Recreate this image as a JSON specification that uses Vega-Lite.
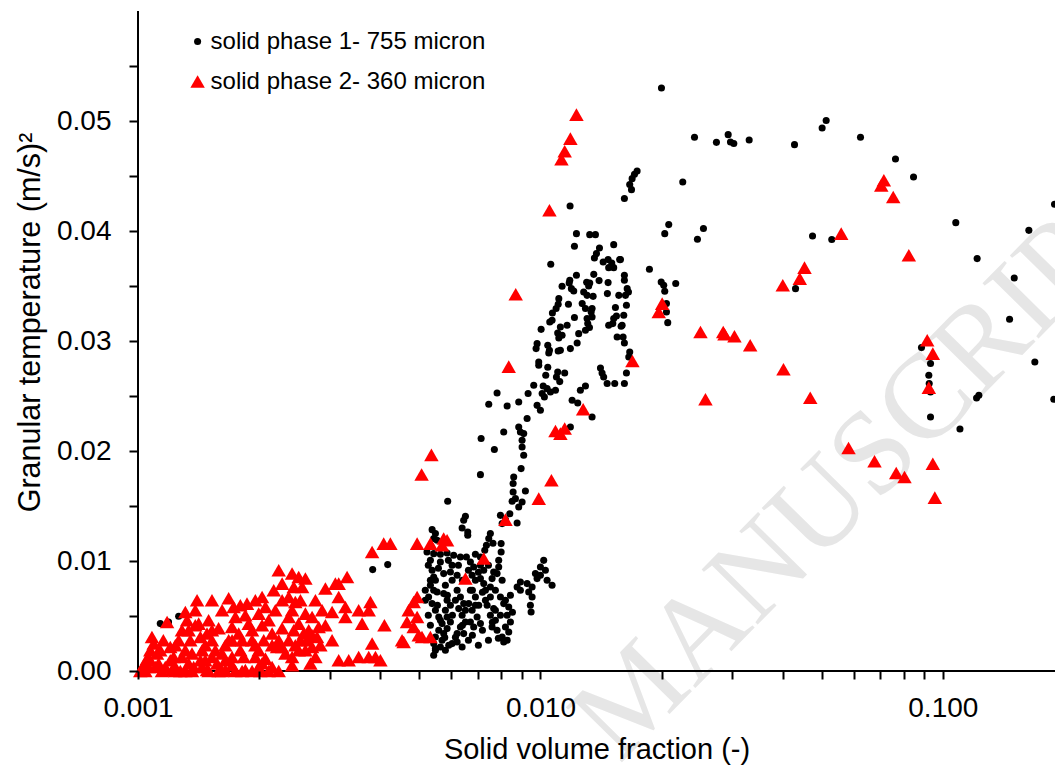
{
"$schema":"https://vega.github.io/schema/vega-lite/v6.json",
"width":917,"height":660,
"autosize":{"type":"none"},
"padding":{"left":138,"top":11,"right":0,"bottom":96},
"background":"white",
"config":{"view":{"stroke":null},"font":"Liberation Sans",
"axis":{"grid":false,"domain":false,"tickColor":"black","labelColor":"black","titleColor":"black","labelFont":"Liberation Sans","titleFont":"Liberation Sans","titleFontWeight":"normal","tickWidth":2,"labelOverlap":false,"labelFlush":false,"labelFontSize":28}},
"datasets":{
"watermark":[{"fraction":0.06407,"temp":0.01884,"label":"MANUSCRIPT"}],
"points":[
{"fraction":0.01999,"temp":0.0530,"phase":"solid phase 1- 755 micron"},
{"fraction":0.02415,"temp":0.04852,"phase":"solid phase 1- 755 micron"},
{"fraction":0.02738,"temp":0.04806,"phase":"solid phase 1- 755 micron"},
{"fraction":0.02928,"temp":0.04876,"phase":"solid phase 1- 755 micron"},
{"fraction":0.02967,"temp":0.04809,"phase":"solid phase 1- 755 micron"},
{"fraction":0.03024,"temp":0.04795,"phase":"solid phase 1- 755 micron"},
{"fraction":0.03302,"temp":0.04827,"phase":"solid phase 1- 755 micron"},
{"fraction":0.0428,"temp":0.04785,"phase":"solid phase 1- 755 micron"},
{"fraction":0.05013,"temp":0.04936,"phase":"solid phase 1- 755 micron"},
{"fraction":0.0513,"temp":0.05004,"phase":"solid phase 1- 755 micron"},
{"fraction":0.06243,"temp":0.04852,"phase":"solid phase 1- 755 micron"},
{"fraction":0.07627,"temp":0.04655,"phase":"solid phase 1- 755 micron"},
{"fraction":0.08457,"temp":0.04491,"phase":"solid phase 1- 755 micron"},
{"fraction":0.1077,"temp":0.04076,"phase":"solid phase 1- 755 micron"},
{"fraction":0.1217,"temp":0.03749,"phase":"solid phase 1- 755 micron"},
{"fraction":0.1505,"temp":0.03573,"phase":"solid phase 1- 755 micron"},
{"fraction":0.1636,"temp":0.04006,"phase":"solid phase 1- 755 micron"},
{"fraction":0.1895,"temp":0.04243,"phase":"solid phase 1- 755 micron"},
{"fraction":0.1465,"temp":0.03197,"phase":"solid phase 1- 755 micron"},
{"fraction":0.02258,"temp":0.04445,"phase":"solid phase 1- 755 micron"},
{"fraction":0.01739,"temp":0.04545,"phase":"solid phase 1- 755 micron"},
{"fraction":0.01713,"temp":0.04515,"phase":"solid phase 1- 755 micron"},
{"fraction":0.0169,"temp":0.04476,"phase":"solid phase 1- 755 micron"},
{"fraction":0.01667,"temp":0.04422,"phase":"solid phase 1- 755 micron"},
{"fraction":0.01684,"temp":0.04376,"phase":"solid phase 1- 755 micron"},
{"fraction":0.01617,"temp":0.04295,"phase":"solid phase 1- 755 micron"},
{"fraction":0.02084,"temp":0.04058,"phase":"solid phase 1- 755 micron"},
{"fraction":0.02037,"temp":0.03976,"phase":"solid phase 1- 755 micron"},
{"fraction":0.02542,"temp":0.04022,"phase":"solid phase 1- 755 micron"},
{"fraction":0.02456,"temp":0.03925,"phase":"solid phase 1- 755 micron"},
{"fraction":0.04745,"temp":0.03955,"phase":"solid phase 1- 755 micron"},
{"fraction":0.05297,"temp":0.03922,"phase":"solid phase 1- 755 micron"},
{"fraction":0.04305,"temp":0.03476,"phase":"solid phase 1- 755 micron"},
{"fraction":0.01866,"temp":0.03652,"phase":"solid phase 1- 755 micron"},
{"fraction":0.01581,"temp":0.0374,"phase":"solid phase 1- 755 micron"},
{"fraction":0.01617,"temp":0.03597,"phase":"solid phase 1- 755 micron"},
{"fraction":0.01617,"temp":0.03552,"phase":"solid phase 1- 755 micron"},
{"fraction":0.01643,"temp":0.03476,"phase":"solid phase 1- 755 micron"},
{"fraction":0.01627,"temp":0.03415,"phase":"solid phase 1- 755 micron"},
{"fraction":0.01636,"temp":0.03325,"phase":"solid phase 1- 755 micron"},
{"fraction":0.01611,"temp":0.03234,"phase":"solid phase 1- 755 micron"},
{"fraction":0.01996,"temp":0.03536,"phase":"solid phase 1- 755 micron"},
{"fraction":0.02025,"temp":0.03506,"phase":"solid phase 1- 755 micron"},
{"fraction":0.02037,"temp":0.03452,"phase":"solid phase 1- 755 micron"},
{"fraction":0.02169,"temp":0.03522,"phase":"solid phase 1- 755 micron"},
{"fraction":0.02057,"temp":0.0334,"phase":"solid phase 1- 755 micron"},
{"fraction":0.02057,"temp":0.03264,"phase":"solid phase 1- 755 micron"},
{"fraction":0.01596,"temp":0.03143,"phase":"solid phase 1- 755 micron"},
{"fraction":0.01605,"temp":0.03036,"phase":"solid phase 1- 755 micron"},
{"fraction":0.01617,"temp":0.02982,"phase":"solid phase 1- 755 micron"},
{"fraction":0.01667,"temp":0.029,"phase":"solid phase 1- 755 micron"},
{"fraction":0.01658,"temp":0.02855,"phase":"solid phase 1- 755 micron"},
{"fraction":0.01636,"temp":0.02709,"phase":"solid phase 1- 755 micron"},
{"fraction":0.01617,"temp":0.02613,"phase":"solid phase 1- 755 micron"},
{"fraction":0.02072,"temp":0.03167,"phase":"solid phase 1- 755 micron"},
{"fraction":0.1693,"temp":0.02809,"phase":"solid phase 1- 755 micron"},
{"fraction":0.1887,"temp":0.0247,"phase":"solid phase 1- 755 micron"},
{"fraction":0.1229,"temp":0.02506,"phase":"solid phase 1- 755 micron"},
{"fraction":0.1213,"temp":0.02482,"phase":"solid phase 1- 755 micron"},
{"fraction":0.08851,"temp":0.0294,"phase":"solid phase 1- 755 micron"},
{"fraction":0.0932,"temp":0.02795,"phase":"solid phase 1- 755 micron"},
{"fraction":0.0923,"temp":0.02688,"phase":"solid phase 1- 755 micron"},
{"fraction":0.0925,"temp":0.02613,"phase":"solid phase 1- 755 micron"},
{"fraction":0.0932,"temp":0.02536,"phase":"solid phase 1- 755 micron"},
{"fraction":0.0932,"temp":0.02309,"phase":"solid phase 1- 755 micron"},
{"fraction":0.1103,"temp":0.022,"phase":"solid phase 1- 755 micron"},
{"fraction":0.01185,"temp":0.04227,"phase":"solid phase 1- 755 micron"},
{"fraction":0.01061,"temp":0.03697,"phase":"solid phase 1- 755 micron"},
{"fraction":0.01229,"temp":0.03976,"phase":"solid phase 1- 755 micron"},
{"fraction":0.01326,"temp":0.03967,"phase":"solid phase 1- 755 micron"},
{"fraction":0.0137,"temp":0.03967,"phase":"solid phase 1- 755 micron"},
{"fraction":0.01521,"temp":0.03876,"phase":"solid phase 1- 755 micron"},
{"fraction":0.01402,"temp":0.03845,"phase":"solid phase 1- 755 micron"},
{"fraction":0.01215,"temp":0.03861,"phase":"solid phase 1- 755 micron"},
{"fraction":0.01378,"temp":0.03795,"phase":"solid phase 1- 755 micron"},
{"fraction":0.01362,"temp":0.03755,"phase":"solid phase 1- 755 micron"},
{"fraction":0.01473,"temp":0.0374,"phase":"solid phase 1- 755 micron"},
{"fraction":0.01432,"temp":0.03718,"phase":"solid phase 1- 755 micron"},
{"fraction":0.01504,"temp":0.03709,"phase":"solid phase 1- 755 micron"},
{"fraction":0.01574,"temp":0.0374,"phase":"solid phase 1- 755 micron"},
{"fraction":0.01521,"temp":0.03667,"phase":"solid phase 1- 755 micron"},
{"fraction":0.01478,"temp":0.03667,"phase":"solid phase 1- 755 micron"},
{"fraction":0.01357,"temp":0.03606,"phase":"solid phase 1- 755 micron"},
{"fraction":0.01229,"temp":0.03597,"phase":"solid phase 1- 755 micron"},
{"fraction":0.01183,"temp":0.03552,"phase":"solid phase 1- 755 micron"},
{"fraction":0.01179,"temp":0.03527,"phase":"solid phase 1- 755 micron"},
{"fraction":0.01194,"temp":0.03476,"phase":"solid phase 1- 755 micron"},
{"fraction":0.01132,"temp":0.03497,"phase":"solid phase 1- 755 micron"},
{"fraction":0.01303,"temp":0.03534,"phase":"solid phase 1- 755 micron"},
{"fraction":0.01326,"temp":0.03527,"phase":"solid phase 1- 755 micron"},
{"fraction":0.01318,"temp":0.035,"phase":"solid phase 1- 755 micron"},
{"fraction":0.01399,"temp":0.03549,"phase":"solid phase 1- 755 micron"},
{"fraction":0.01473,"temp":0.03531,"phase":"solid phase 1- 755 micron"},
{"fraction":0.01655,"temp":0.03445,"phase":"solid phase 1- 755 micron"},
{"fraction":0.0121,"temp":0.03455,"phase":"solid phase 1- 755 micron"},
{"fraction":0.01281,"temp":0.03445,"phase":"solid phase 1- 755 micron"},
{"fraction":0.01306,"temp":0.03415,"phase":"solid phase 1- 755 micron"},
{"fraction":0.01352,"temp":0.03406,"phase":"solid phase 1- 755 micron"},
{"fraction":0.01467,"temp":0.03431,"phase":"solid phase 1- 755 micron"},
{"fraction":0.01566,"temp":0.03415,"phase":"solid phase 1- 755 micron"},
{"fraction":0.01111,"temp":0.03385,"phase":"solid phase 1- 755 micron"},
{"fraction":0.01107,"temp":0.03334,"phase":"solid phase 1- 755 micron"},
{"fraction":0.01094,"temp":0.03295,"phase":"solid phase 1- 755 micron"},
{"fraction":0.01174,"temp":0.03334,"phase":"solid phase 1- 755 micron"},
{"fraction":0.0127,"temp":0.0334,"phase":"solid phase 1- 755 micron"},
{"fraction":0.01294,"temp":0.03295,"phase":"solid phase 1- 755 micron"},
{"fraction":0.01344,"temp":0.03295,"phase":"solid phase 1- 755 micron"},
{"fraction":0.01337,"temp":0.03264,"phase":"solid phase 1- 755 micron"},
{"fraction":0.01344,"temp":0.03218,"phase":"solid phase 1- 755 micron"},
{"fraction":0.01306,"temp":0.03204,"phase":"solid phase 1- 755 micron"},
{"fraction":0.01311,"temp":0.03158,"phase":"solid phase 1- 755 micron"},
{"fraction":0.01324,"temp":0.03122,"phase":"solid phase 1- 755 micron"},
{"fraction":0.01294,"temp":0.03097,"phase":"solid phase 1- 755 micron"},
{"fraction":0.01536,"temp":0.03304,"phase":"solid phase 1- 755 micron"},
{"fraction":0.01545,"temp":0.03227,"phase":"solid phase 1- 755 micron"},
{"fraction":0.01521,"temp":0.03204,"phase":"solid phase 1- 755 micron"},
{"fraction":0.01513,"temp":0.03158,"phase":"solid phase 1- 755 micron"},
{"fraction":0.01478,"temp":0.03143,"phase":"solid phase 1- 755 micron"},
{"fraction":0.01587,"temp":0.03134,"phase":"solid phase 1- 755 micron"},
{"fraction":0.01551,"temp":0.03036,"phase":"solid phase 1- 755 micron"},
{"fraction":0.01071,"temp":0.03255,"phase":"solid phase 1- 755 micron"},
{"fraction":0.01069,"temp":0.03188,"phase":"solid phase 1- 755 micron"},
{"fraction":0.01055,"temp":0.03173,"phase":"solid phase 1- 755 micron"},
{"fraction":0.01215,"temp":0.03213,"phase":"solid phase 1- 755 micron"},
{"fraction":0.01165,"temp":0.03143,"phase":"solid phase 1- 755 micron"},
{"fraction":0.01121,"temp":0.03127,"phase":"solid phase 1- 755 micron"},
{"fraction":0.01104,"temp":0.03073,"phase":"solid phase 1- 755 micron"},
{"fraction":0.01132,"temp":0.03052,"phase":"solid phase 1- 755 micron"},
{"fraction":0.01111,"temp":0.03027,"phase":"solid phase 1- 755 micron"},
{"fraction":0.01004,"temp":0.03106,"phase":"solid phase 1- 755 micron"},
{"fraction":0.01245,"temp":0.03067,"phase":"solid phase 1- 755 micron"},
{"fraction":0.01234,"temp":0.02982,"phase":"solid phase 1- 755 micron"},
{"fraction":0.01187,"temp":0.02931,"phase":"solid phase 1- 755 micron"},
{"fraction":0.009812,"temp":0.02976,"phase":"solid phase 1- 755 micron"},
{"fraction":0.009756,"temp":0.02931,"phase":"solid phase 1- 755 micron"},
{"fraction":0.01043,"temp":0.02961,"phase":"solid phase 1- 755 micron"},
{"fraction":0.01053,"temp":0.02915,"phase":"solid phase 1- 755 micron"},
{"fraction":0.01049,"temp":0.02891,"phase":"solid phase 1- 755 micron"},
{"fraction":0.01107,"temp":0.02909,"phase":"solid phase 1- 755 micron"},
{"fraction":0.01121,"temp":0.02915,"phase":"solid phase 1- 755 micron"},
{"fraction":0.009905,"temp":0.02809,"phase":"solid phase 1- 755 micron"},
{"fraction":0.009905,"temp":0.02779,"phase":"solid phase 1- 755 micron"},
{"fraction":0.01043,"temp":0.02761,"phase":"solid phase 1- 755 micron"},
{"fraction":0.01031,"temp":0.02688,"phase":"solid phase 1- 755 micron"},
{"fraction":0.01104,"temp":0.02718,"phase":"solid phase 1- 755 micron"},
{"fraction":0.01149,"temp":0.02709,"phase":"solid phase 1- 755 micron"},
{"fraction":0.01096,"temp":0.02673,"phase":"solid phase 1- 755 micron"},
{"fraction":0.01117,"temp":0.02631,"phase":"solid phase 1- 755 micron"},
{"fraction":0.0141,"temp":0.02755,"phase":"solid phase 1- 755 micron"},
{"fraction":0.01423,"temp":0.02709,"phase":"solid phase 1- 755 micron"},
{"fraction":0.01436,"temp":0.02673,"phase":"solid phase 1- 755 micron"},
{"fraction":0.01465,"temp":0.02613,"phase":"solid phase 1- 755 micron"},
{"fraction":0.0153,"temp":0.02613,"phase":"solid phase 1- 755 micron"},
{"fraction":0.009625,"temp":0.02597,"phase":"solid phase 1- 755 micron"},
{"fraction":0.01016,"temp":0.02591,"phase":"solid phase 1- 755 micron"},
{"fraction":0.01039,"temp":0.02567,"phase":"solid phase 1- 755 micron"},
{"fraction":0.01059,"temp":0.02536,"phase":"solid phase 1- 755 micron"},
{"fraction":0.0109,"temp":0.02552,"phase":"solid phase 1- 755 micron"},
{"fraction":0.0101,"temp":0.02522,"phase":"solid phase 1- 755 micron"},
{"fraction":0.01023,"temp":0.02491,"phase":"solid phase 1- 755 micron"},
{"fraction":0.01294,"temp":0.02591,"phase":"solid phase 1- 755 micron"},
{"fraction":0.01257,"temp":0.02552,"phase":"solid phase 1- 755 micron"},
{"fraction":0.01199,"temp":0.02461,"phase":"solid phase 1- 755 micron"},
{"fraction":0.01238,"temp":0.02436,"phase":"solid phase 1- 755 micron"},
{"fraction":0.01344,"temp":0.02309,"phase":"solid phase 1- 755 micron"},
{"fraction":0.007804,"temp":0.02527,"phase":"solid phase 1- 755 micron"},
{"fraction":0.007441,"temp":0.02425,"phase":"solid phase 1- 755 micron"},
{"fraction":0.008266,"temp":0.02409,"phase":"solid phase 1- 755 micron"},
{"fraction":0.008833,"temp":0.02445,"phase":"solid phase 1- 755 micron"},
{"fraction":0.00932,"temp":0.02522,"phase":"solid phase 1- 755 micron"},
{"fraction":0.009812,"temp":0.02415,"phase":"solid phase 1- 755 micron"},
{"fraction":0.01,"temp":0.0237,"phase":"solid phase 1- 755 micron"},
{"fraction":0.009267,"temp":0.02295,"phase":"solid phase 1- 755 micron"},
{"fraction":0.008833,"temp":0.02218,"phase":"solid phase 1- 755 micron"},
{"fraction":0.008918,"temp":0.02173,"phase":"solid phase 1- 755 micron"},
{"fraction":0.009088,"temp":0.02158,"phase":"solid phase 1- 755 micron"},
{"fraction":0.009005,"temp":0.02097,"phase":"solid phase 1- 755 micron"},
{"fraction":0.009005,"temp":0.02036,"phase":"solid phase 1- 755 micron"},
{"fraction":0.009088,"temp":0.01961,"phase":"solid phase 1- 755 micron"},
{"fraction":0.01187,"temp":0.02218,"phase":"solid phase 1- 755 micron"},
{"fraction":0.008106,"temp":0.02173,"phase":"solid phase 1- 755 micron"},
{"fraction":0.007123,"temp":0.02113,"phase":"solid phase 1- 755 micron"},
{"fraction":0.007684,"temp":0.02013,"phase":"solid phase 1- 755 micron"},
{"fraction":0.008954,"temp":0.0184,"phase":"solid phase 1- 755 micron"},
{"fraction":0.008583,"temp":0.01764,"phase":"solid phase 1- 755 micron"},
{"fraction":0.008554,"temp":0.01704,"phase":"solid phase 1- 755 micron"},
{"fraction":0.007095,"temp":0.01785,"phase":"solid phase 1- 755 micron"},
{"fraction":0.008554,"temp":0.01627,"phase":"solid phase 1- 755 micron"},
{"fraction":0.008668,"temp":0.01567,"phase":"solid phase 1- 755 micron"},
{"fraction":0.008506,"temp":0.01543,"phase":"solid phase 1- 755 micron"},
{"fraction":0.009005,"temp":0.01536,"phase":"solid phase 1- 755 micron"},
{"fraction":0.009177,"temp":0.01636,"phase":"solid phase 1- 755 micron"},
{"fraction":0.005883,"temp":0.01543,"phase":"solid phase 1- 755 micron"},
{"fraction":0.008833,"temp":0.01491,"phase":"solid phase 1- 755 micron"},
{"fraction":0.008393,"temp":0.0143,"phase":"solid phase 1- 755 micron"},
{"fraction":0.006511,"temp":0.01406,"phase":"solid phase 1- 755 micron"},
{"fraction":0.006447,"temp":0.0137,"phase":"solid phase 1- 755 micron"},
{"fraction":0.006389,"temp":0.013,"phase":"solid phase 1- 755 micron"},
{"fraction":0.006598,"temp":0.01264,"phase":"solid phase 1- 755 micron"},
{"fraction":0.006598,"temp":0.01234,"phase":"solid phase 1- 755 micron"},
{"fraction":0.007955,"temp":0.01415,"phase":"solid phase 1- 755 micron"},
{"fraction":0.008033,"temp":0.0134,"phase":"solid phase 1- 755 micron"},
{"fraction":0.008187,"temp":0.01376,"phase":"solid phase 1- 755 micron"},
{"fraction":0.008752,"temp":0.01345,"phase":"solid phase 1- 755 micron"},
{"fraction":0.005381,"temp":0.01285,"phase":"solid phase 1- 755 micron"},
{"fraction":0.005484,"temp":0.01249,"phase":"solid phase 1- 755 micron"},
{"fraction":0.00543,"temp":0.01204,"phase":"solid phase 1- 755 micron"},
{"fraction":0.005537,"temp":0.01188,"phase":"solid phase 1- 755 micron"},
{"fraction":0.00751,"temp":0.01249,"phase":"solid phase 1- 755 micron"},
{"fraction":0.007441,"temp":0.01204,"phase":"solid phase 1- 755 micron"},
{"fraction":0.007343,"temp":0.01143,"phase":"solid phase 1- 755 micron"},
{"fraction":0.007273,"temp":0.01097,"phase":"solid phase 1- 755 micron"},
{"fraction":0.007623,"temp":0.01161,"phase":"solid phase 1- 755 micron"},
{"fraction":0.007987,"temp":0.01158,"phase":"solid phase 1- 755 micron"},
{"fraction":0.007987,"temp":0.01082,"phase":"solid phase 1- 755 micron"},
{"fraction":0.007877,"temp":0.01006,"phase":"solid phase 1- 755 micron"},
{"fraction":0.007877,"temp":0.009455,"phase":"solid phase 1- 755 micron"},
{"fraction":0.007804,"temp":0.008855,"phase":"solid phase 1- 755 micron"},
{"fraction":0.008033,"temp":0.008245,"phase":"solid phase 1- 755 micron"},
{"fraction":0.005226,"temp":0.01082,"phase":"solid phase 1- 755 micron"},
{"fraction":0.00543,"temp":0.01067,"phase":"solid phase 1- 755 micron"},
{"fraction":0.005642,"temp":0.01061,"phase":"solid phase 1- 755 micron"},
{"fraction":0.005863,"temp":0.01073,"phase":"solid phase 1- 755 micron"},
{"fraction":0.006088,"temp":0.01052,"phase":"solid phase 1- 755 micron"},
{"fraction":0.006327,"temp":0.01036,"phase":"solid phase 1- 755 micron"},
{"fraction":0.006548,"temp":0.01036,"phase":"solid phase 1- 755 micron"},
{"fraction":0.006894,"temp":0.01061,"phase":"solid phase 1- 755 micron"},
{"fraction":0.007095,"temp":0.01036,"phase":"solid phase 1- 755 micron"},
{"fraction":0.005329,"temp":0.01006,"phase":"solid phase 1- 755 micron"},
{"fraction":0.005381,"temp":0.009155,"phase":"solid phase 1- 755 micron"},
{"fraction":0.00543,"temp":0.008545,"phase":"solid phase 1- 755 micron"},
{"fraction":0.005329,"temp":0.008245,"phase":"solid phase 1- 755 micron"},
{"fraction":0.005329,"temp":0.007791,"phase":"solid phase 1- 755 micron"},
{"fraction":0.00543,"temp":0.007336,"phase":"solid phase 1- 755 micron"},
{"fraction":0.005537,"temp":0.007182,"phase":"solid phase 1- 755 micron"},
{"fraction":0.005642,"temp":0.009909,"phase":"solid phase 1- 755 micron"},
{"fraction":0.006034,"temp":0.009609,"phase":"solid phase 1- 755 micron"},
{"fraction":0.005975,"temp":0.009,"phase":"solid phase 1- 755 micron"},
{"fraction":0.005749,"temp":0.008855,"phase":"solid phase 1- 755 micron"},
{"fraction":0.006209,"temp":0.0087,"phase":"solid phase 1- 755 micron"},
{"fraction":0.006034,"temp":0.008245,"phase":"solid phase 1- 755 micron"},
{"fraction":0.006699,"temp":0.009909,"phase":"solid phase 1- 755 micron"},
{"fraction":0.006826,"temp":0.009455,"phase":"solid phase 1- 755 micron"},
{"fraction":0.007095,"temp":0.009609,"phase":"solid phase 1- 755 micron"},
{"fraction":0.00723,"temp":0.009155,"phase":"solid phase 1- 755 micron"},
{"fraction":0.006765,"temp":0.0087,"phase":"solid phase 1- 755 micron"},
{"fraction":0.006894,"temp":0.008245,"phase":"solid phase 1- 755 micron"},
{"fraction":0.007095,"temp":0.0084,"phase":"solid phase 1- 755 micron"},
{"fraction":0.00723,"temp":0.007945,"phase":"solid phase 1- 755 micron"},
{"fraction":0.00751,"temp":0.007636,"phase":"solid phase 1- 755 micron"},
{"fraction":0.007584,"temp":0.0084,"phase":"solid phase 1- 755 micron"},
{"fraction":0.007653,"temp":0.009,"phase":"solid phase 1- 755 micron"},
{"fraction":0.005175,"temp":0.007336,"phase":"solid phase 1- 755 micron"},
{"fraction":0.005274,"temp":0.006727,"phase":"solid phase 1- 755 micron"},
{"fraction":0.005381,"temp":0.006127,"phase":"solid phase 1- 755 micron"},
{"fraction":0.005484,"temp":0.005518,"phase":"solid phase 1- 755 micron"},
{"fraction":0.00559,"temp":0.004909,"phase":"solid phase 1- 755 micron"},
{"fraction":0.005697,"temp":0.004309,"phase":"solid phase 1- 755 micron"},
{"fraction":0.00559,"temp":0.0037,"phase":"solid phase 1- 755 micron"},
{"fraction":0.005484,"temp":0.003091,"phase":"solid phase 1- 755 micron"},
{"fraction":0.00543,"temp":0.002491,"phase":"solid phase 1- 755 micron"},
{"fraction":0.005484,"temp":0.001882,"phase":"solid phase 1- 755 micron"},
{"fraction":0.00543,"temp":0.001427,"phase":"solid phase 1- 755 micron"},
{"fraction":0.005749,"temp":0.007036,"phase":"solid phase 1- 755 micron"},
{"fraction":0.005863,"temp":0.006427,"phase":"solid phase 1- 755 micron"},
{"fraction":0.005975,"temp":0.005973,"phase":"solid phase 1- 755 micron"},
{"fraction":0.005806,"temp":0.005518,"phase":"solid phase 1- 755 micron"},
{"fraction":0.005863,"temp":0.004909,"phase":"solid phase 1- 755 micron"},
{"fraction":0.005975,"temp":0.004455,"phase":"solid phase 1- 755 micron"},
{"fraction":0.005863,"temp":0.003855,"phase":"solid phase 1- 755 micron"},
{"fraction":0.005749,"temp":0.0034,"phase":"solid phase 1- 755 micron"},
{"fraction":0.005697,"temp":0.002791,"phase":"solid phase 1- 755 micron"},
{"fraction":0.006209,"temp":0.007336,"phase":"solid phase 1- 755 micron"},
{"fraction":0.006327,"temp":0.006727,"phase":"solid phase 1- 755 micron"},
{"fraction":0.006447,"temp":0.006127,"phase":"solid phase 1- 755 micron"},
{"fraction":0.006267,"temp":0.005673,"phase":"solid phase 1- 755 micron"},
{"fraction":0.006389,"temp":0.005064,"phase":"solid phase 1- 755 micron"},
{"fraction":0.006511,"temp":0.004455,"phase":"solid phase 1- 755 micron"},
{"fraction":0.006327,"temp":0.004,"phase":"solid phase 1- 755 micron"},
{"fraction":0.006209,"temp":0.0034,"phase":"solid phase 1- 755 micron"},
{"fraction":0.006447,"temp":0.0034,"phase":"solid phase 1- 755 micron"},
{"fraction":0.006034,"temp":0.002491,"phase":"solid phase 1- 755 micron"},
{"fraction":0.006209,"temp":0.002636,"phase":"solid phase 1- 755 micron"},
{"fraction":0.006389,"temp":0.002182,"phase":"solid phase 1- 755 micron"},
{"fraction":0.005918,"temp":0.002336,"phase":"solid phase 1- 755 micron"},
{"fraction":0.006699,"temp":0.007336,"phase":"solid phase 1- 755 micron"},
{"fraction":0.006894,"temp":0.006727,"phase":"solid phase 1- 755 micron"},
{"fraction":0.007026,"temp":0.005973,"phase":"solid phase 1- 755 micron"},
{"fraction":0.006765,"temp":0.005518,"phase":"solid phase 1- 755 micron"},
{"fraction":0.006961,"temp":0.004909,"phase":"solid phase 1- 755 micron"},
{"fraction":0.007095,"temp":0.004309,"phase":"solid phase 1- 755 micron"},
{"fraction":0.006826,"temp":0.004,"phase":"solid phase 1- 755 micron"},
{"fraction":0.006699,"temp":0.004455,"phase":"solid phase 1- 755 micron"},
{"fraction":0.006635,"temp":0.006127,"phase":"solid phase 1- 755 micron"},
{"fraction":0.007302,"temp":0.007336,"phase":"solid phase 1- 755 micron"},
{"fraction":0.00751,"temp":0.006727,"phase":"solid phase 1- 755 micron"},
{"fraction":0.007372,"temp":0.005973,"phase":"solid phase 1- 755 micron"},
{"fraction":0.007653,"temp":0.005673,"phase":"solid phase 1- 755 micron"},
{"fraction":0.00751,"temp":0.005064,"phase":"solid phase 1- 755 micron"},
{"fraction":0.007729,"temp":0.004609,"phase":"solid phase 1- 755 micron"},
{"fraction":0.007584,"temp":0.004,"phase":"solid phase 1- 755 micron"},
{"fraction":0.007804,"temp":0.0037,"phase":"solid phase 1- 755 micron"},
{"fraction":0.008033,"temp":0.003091,"phase":"solid phase 1- 755 micron"},
{"fraction":0.008266,"temp":0.002791,"phase":"solid phase 1- 755 micron"},
{"fraction":0.008106,"temp":0.002636,"phase":"solid phase 1- 755 micron"},
{"fraction":0.007955,"temp":0.006727,"phase":"solid phase 1- 755 micron"},
{"fraction":0.008106,"temp":0.006127,"phase":"solid phase 1- 755 micron"},
{"fraction":0.008342,"temp":0.005818,"phase":"solid phase 1- 755 micron"},
{"fraction":0.008266,"temp":0.005064,"phase":"solid phase 1- 755 micron"},
{"fraction":0.008423,"temp":0.004455,"phase":"solid phase 1- 755 micron"},
{"fraction":0.008187,"temp":0.004,"phase":"solid phase 1- 755 micron"},
{"fraction":0.008342,"temp":0.003545,"phase":"solid phase 1- 755 micron"},
{"fraction":0.008752,"temp":0.007636,"phase":"solid phase 1- 755 micron"},
{"fraction":0.008918,"temp":0.008091,"phase":"solid phase 1- 755 micron"},
{"fraction":0.009267,"temp":0.007945,"phase":"solid phase 1- 755 micron"},
{"fraction":0.009536,"temp":0.007636,"phase":"solid phase 1- 755 micron"},
{"fraction":0.009812,"temp":0.0084,"phase":"solid phase 1- 755 micron"},
{"fraction":0.009718,"temp":0.008855,"phase":"solid phase 1- 755 micron"},
{"fraction":0.01,"temp":0.009455,"phase":"solid phase 1- 755 micron"},
{"fraction":0.01019,"temp":0.01006,"phase":"solid phase 1- 755 micron"},
{"fraction":0.01029,"temp":0.009155,"phase":"solid phase 1- 755 micron"},
{"fraction":0.01,"temp":0.0087,"phase":"solid phase 1- 755 micron"},
{"fraction":0.01039,"temp":0.008245,"phase":"solid phase 1- 755 micron"},
{"fraction":0.01069,"temp":0.007791,"phase":"solid phase 1- 755 micron"},
{"fraction":0.009352,"temp":0.007182,"phase":"solid phase 1- 755 micron"},
{"fraction":0.009536,"temp":0.006727,"phase":"solid phase 1- 755 micron"},
{"fraction":0.009443,"temp":0.005973,"phase":"solid phase 1- 755 micron"},
{"fraction":0.009481,"temp":0.005364,"phase":"solid phase 1- 755 micron"},
{"fraction":0.005484,"temp":0.002036,"phase":"solid phase 1- 755 micron"},
{"fraction":0.005642,"temp":0.002182,"phase":"solid phase 1- 755 micron"},
{"fraction":0.005785,"temp":0.003045,"phase":"solid phase 1- 755 micron"},
{"fraction":0.001136,"temp":0.004309,"phase":"solid phase 1- 755 micron"},
{"fraction":0.001191,"temp":0.004455,"phase":"solid phase 1- 755 micron"},
{"fraction":0.001262,"temp":0.004973,"phase":"solid phase 1- 755 micron"},
{"fraction":0.00383,"temp":0.009218,"phase":"solid phase 1- 755 micron"},
{"fraction":0.004174,"temp":0.009673,"phase":"solid phase 1- 755 micron"},
{"fraction":0.005265,"temp":0.00961,"phase":"solid phase 1- 755 micron"},
{"fraction":0.005579,"temp":0.009336,"phase":"solid phase 1- 755 micron"},
{"fraction":0.005907,"temp":0.01006,"phase":"solid phase 1- 755 micron"},
{"fraction":0.006255,"temp":0.00961,"phase":"solid phase 1- 755 micron"},
{"fraction":0.006624,"temp":0.009155,"phase":"solid phase 1- 755 micron"},
{"fraction":0.007013,"temp":0.008973,"phase":"solid phase 1- 755 micron"},
{"fraction":0.007428,"temp":0.00961,"phase":"solid phase 1- 755 micron"},
{"fraction":0.005175,"temp":0.006427,"phase":"solid phase 1- 755 micron"},
{"fraction":0.005547,"temp":0.005973,"phase":"solid phase 1- 755 micron"},
{"fraction":0.005873,"temp":0.006882,"phase":"solid phase 1- 755 micron"},
{"fraction":0.006149,"temp":0.006427,"phase":"solid phase 1- 755 micron"},
{"fraction":0.006511,"temp":0.005518,"phase":"solid phase 1- 755 micron"},
{"fraction":0.006894,"temp":0.005973,"phase":"solid phase 1- 755 micron"},
{"fraction":0.007302,"temp":0.006427,"phase":"solid phase 1- 755 micron"},
{"fraction":0.007729,"temp":0.005518,"phase":"solid phase 1- 755 micron"},
{"fraction":0.008187,"temp":0.006427,"phase":"solid phase 1- 755 micron"},
{"fraction":0.005642,"temp":0.004609,"phase":"solid phase 1- 755 micron"},
{"fraction":0.006044,"temp":0.005064,"phase":"solid phase 1- 755 micron"},
{"fraction":0.0064,"temp":0.004155,"phase":"solid phase 1- 755 micron"},
{"fraction":0.006776,"temp":0.003245,"phase":"solid phase 1- 755 micron"},
{"fraction":0.007177,"temp":0.0037,"phase":"solid phase 1- 755 micron"},
{"fraction":0.007596,"temp":0.004427,"phase":"solid phase 1- 755 micron"},
{"fraction":0.007955,"temp":0.005064,"phase":"solid phase 1- 755 micron"},
{"fraction":0.00852,"temp":0.005336,"phase":"solid phase 1- 755 micron"},
{"fraction":0.005329,"temp":0.004155,"phase":"solid phase 1- 755 micron"},
{"fraction":0.005806,"temp":0.001882,"phase":"solid phase 1- 755 micron"},
{"fraction":0.006149,"temp":0.003064,"phase":"solid phase 1- 755 micron"},
{"fraction":0.006624,"temp":0.002791,"phase":"solid phase 1- 755 micron"},
{"fraction":0.007013,"temp":0.002336,"phase":"solid phase 1- 755 micron"},
{"fraction":0.007428,"temp":0.002791,"phase":"solid phase 1- 755 micron"},
{"fraction":0.007862,"temp":0.002973,"phase":"solid phase 1- 755 micron"},
{"fraction":0.005265,"temp":0.005064,"phase":"solid phase 1- 755 micron"},
{"fraction":0.005484,"temp":0.008245,"phase":"solid phase 1- 755 micron"},
{"fraction":0.005806,"temp":0.007791,"phase":"solid phase 1- 755 micron"},
{"fraction":0.0064,"temp":0.008245,"phase":"solid phase 1- 755 micron"},
{"fraction":0.006776,"temp":0.007336,"phase":"solid phase 1- 755 micron"},
{"fraction":0.007177,"temp":0.007155,"phase":"solid phase 1- 755 micron"},
{"fraction":0.007729,"temp":0.007336,"phase":"solid phase 1- 755 micron"},
{"fraction":0.008423,"temp":0.006882,"phase":"solid phase 1- 755 micron"},
{"fraction":0.008918,"temp":0.007336,"phase":"solid phase 1- 755 micron"},
{"fraction":0.01229,"temp":0.05058,"phase":"solid phase 2- 360 micron"},
{"fraction":0.01187,"temp":0.0484,"phase":"solid phase 2- 360 micron"},
{"fraction":0.01149,"temp":0.04725,"phase":"solid phase 2- 360 micron"},
{"fraction":0.01128,"temp":0.04652,"phase":"solid phase 2- 360 micron"},
{"fraction":0.01053,"temp":0.04188,"phase":"solid phase 2- 360 micron"},
{"fraction":0.008682,"temp":0.03425,"phase":"solid phase 2- 360 micron"},
{"fraction":0.008342,"temp":0.02767,"phase":"solid phase 2- 360 micron"},
{"fraction":0.01693,"temp":0.02818,"phase":"solid phase 2- 360 micron"},
{"fraction":0.02007,"temp":0.0334,"phase":"solid phase 2- 360 micron"},
{"fraction":0.01968,"temp":0.03264,"phase":"solid phase 2- 360 micron"},
{"fraction":0.07136,"temp":0.04461,"phase":"solid phase 2- 360 micron"},
{"fraction":0.0703,"temp":0.04415,"phase":"solid phase 2- 360 micron"},
{"fraction":0.07529,"temp":0.04309,"phase":"solid phase 2- 360 micron"},
{"fraction":0.05591,"temp":0.03976,"phase":"solid phase 2- 360 micron"},
{"fraction":0.08232,"temp":0.03779,"phase":"solid phase 2- 360 micron"},
{"fraction":0.04532,"temp":0.03667,"phase":"solid phase 2- 360 micron"},
{"fraction":0.04411,"temp":0.03567,"phase":"solid phase 2- 360 micron"},
{"fraction":0.04002,"temp":0.03506,"phase":"solid phase 2- 360 micron"},
{"fraction":0.02499,"temp":0.03082,"phase":"solid phase 2- 360 micron"},
{"fraction":0.02846,"temp":0.03082,"phase":"solid phase 2- 360 micron"},
{"fraction":0.02867,"temp":0.03061,"phase":"solid phase 2- 360 micron"},
{"fraction":0.03035,"temp":0.03043,"phase":"solid phase 2- 360 micron"},
{"fraction":0.03321,"temp":0.02961,"phase":"solid phase 2- 360 micron"},
{"fraction":0.04018,"temp":0.02743,"phase":"solid phase 2- 360 micron"},
{"fraction":0.02571,"temp":0.0247,"phase":"solid phase 2- 360 micron"},
{"fraction":0.04683,"temp":0.02485,"phase":"solid phase 2- 360 micron"},
{"fraction":0.09146,"temp":0.03006,"phase":"solid phase 2- 360 micron"},
{"fraction":0.09443,"temp":0.02885,"phase":"solid phase 2- 360 micron"},
{"fraction":0.0923,"temp":0.02576,"phase":"solid phase 2- 360 micron"},
{"fraction":0.0583,"temp":0.02027,"phase":"solid phase 2- 360 micron"},
{"fraction":0.06765,"temp":0.01906,"phase":"solid phase 2- 360 micron"},
{"fraction":0.07659,"temp":0.018,"phase":"solid phase 2- 360 micron"},
{"fraction":0.08031,"temp":0.01764,"phase":"solid phase 2- 360 micron"},
{"fraction":0.09443,"temp":0.01885,"phase":"solid phase 2- 360 micron"},
{"fraction":0.09552,"temp":0.01576,"phase":"solid phase 2- 360 micron"},
{"fraction":0.01277,"temp":0.02379,"phase":"solid phase 2- 360 micron"},
{"fraction":0.0109,"temp":0.02182,"phase":"solid phase 2- 360 micron"},
{"fraction":0.01149,"temp":0.02204,"phase":"solid phase 2- 360 micron"},
{"fraction":0.01121,"temp":0.02158,"phase":"solid phase 2- 360 micron"},
{"fraction":0.01065,"temp":0.01734,"phase":"solid phase 2- 360 micron"},
{"fraction":0.009905,"temp":0.01567,"phase":"solid phase 2- 360 micron"},
{"fraction":0.008187,"temp":0.01376,"phase":"solid phase 2- 360 micron"},
{"fraction":0.005359,"temp":0.01965,"phase":"solid phase 2- 360 micron"},
{"fraction":0.005067,"temp":0.01786,"phase":"solid phase 2- 360 micron"},
{"fraction":0.00723,"temp":0.01022,"phase":"solid phase 2- 360 micron"},
{"fraction":0.006511,"temp":0.0084,"phase":"solid phase 2- 360 micron"},
{"fraction":0.004079,"temp":0.01158,"phase":"solid phase 2- 360 micron"},
{"fraction":0.004238,"temp":0.01158,"phase":"solid phase 2- 360 micron"},
{"fraction":0.004939,"temp":0.01158,"phase":"solid phase 2- 360 micron"},
{"fraction":0.005329,"temp":0.01158,"phase":"solid phase 2- 360 micron"},
{"fraction":0.005749,"temp":0.01204,"phase":"solid phase 2- 360 micron"},
{"fraction":0.005863,"temp":0.01188,"phase":"solid phase 2- 360 micron"},
{"fraction":0.005697,"temp":0.01143,"phase":"solid phase 2- 360 micron"},
{"fraction":0.003817,"temp":0.01082,"phase":"solid phase 2- 360 micron"},
{"fraction":0.004939,"temp":0.006727,"phase":"solid phase 2- 360 micron"},
{"fraction":0.004843,"temp":0.006273,"phase":"solid phase 2- 360 micron"},
{"fraction":0.004706,"temp":0.005518,"phase":"solid phase 2- 360 micron"},
{"fraction":0.004939,"temp":0.004909,"phase":"solid phase 2- 360 micron"},
{"fraction":0.004662,"temp":0.004455,"phase":"solid phase 2- 360 micron"},
{"fraction":0.004843,"temp":0.004,"phase":"solid phase 2- 360 micron"},
{"fraction":0.004985,"temp":0.003245,"phase":"solid phase 2- 360 micron"},
{"fraction":0.005329,"temp":0.003091,"phase":"solid phase 2- 360 micron"},
{"fraction":0.004572,"temp":0.002636,"phase":"solid phase 2- 360 micron"},
{"fraction":0.004096,"temp":0.004155,"phase":"solid phase 2- 360 micron"},
{"fraction":0.004003,"temp":0.000973,"phase":"solid phase 2- 360 micron"},
{"fraction":0.005078,"temp":0.003091,"phase":"solid phase 2- 360 micron"},
{"fraction":0.001013,"temp":0.0,"phase":"solid phase 2- 360 micron"},
{"fraction":0.001033,"temp":0.000518,"phase":"solid phase 2- 360 micron"},
{"fraction":0.001053,"temp":0.001127,"phase":"solid phase 2- 360 micron"},
{"fraction":0.001073,"temp":0.001882,"phase":"solid phase 2- 360 micron"},
{"fraction":0.001083,"temp":0.003091,"phase":"solid phase 2- 360 micron"},
{"fraction":0.001094,"temp":0.002491,"phase":"solid phase 2- 360 micron"},
{"fraction":0.001115,"temp":0.001582,"phase":"solid phase 2- 360 micron"},
{"fraction":0.001063,"temp":0.000364,"phase":"solid phase 2- 360 micron"},
{"fraction":0.001104,"temp":0.000364,"phase":"solid phase 2- 360 micron"},
{"fraction":0.001043,"temp":0.0,"phase":"solid phase 2- 360 micron"},
{"fraction":0.001125,"temp":0.000673,"phase":"solid phase 2- 360 micron"},
{"fraction":0.001147,"temp":0.0,"phase":"solid phase 2- 360 micron"},
{"fraction":0.001169,"temp":0.000364,"phase":"solid phase 2- 360 micron"},
{"fraction":0.001181,"temp":0.004455,"phase":"solid phase 2- 360 micron"},
{"fraction":0.001203,"temp":0.002182,"phase":"solid phase 2- 360 micron"},
{"fraction":0.001226,"temp":0.001273,"phase":"solid phase 2- 360 micron"},
{"fraction":0.001238,"temp":0.000364,"phase":"solid phase 2- 360 micron"},
{"fraction":0.001274,"temp":0.0,"phase":"solid phase 2- 360 micron"},
{"fraction":0.001262,"temp":0.002791,"phase":"solid phase 2- 360 micron"},
{"fraction":0.001286,"temp":0.0037,"phase":"solid phase 2- 360 micron"},
{"fraction":0.001311,"temp":0.005364,"phase":"solid phase 2- 360 micron"},
{"fraction":0.001324,"temp":0.004609,"phase":"solid phase 2- 360 micron"},
{"fraction":0.001349,"temp":0.002791,"phase":"solid phase 2- 360 micron"},
{"fraction":0.001362,"temp":0.001582,"phase":"solid phase 2- 360 micron"},
{"fraction":0.001375,"temp":0.000364,"phase":"solid phase 2- 360 micron"},
{"fraction":0.001402,"temp":0.006427,"phase":"solid phase 2- 360 micron"},
{"fraction":0.001388,"temp":0.005518,"phase":"solid phase 2- 360 micron"},
{"fraction":0.001415,"temp":0.004309,"phase":"solid phase 2- 360 micron"},
{"fraction":0.001429,"temp":0.003091,"phase":"solid phase 2- 360 micron"},
{"fraction":0.001443,"temp":0.001882,"phase":"solid phase 2- 360 micron"},
{"fraction":0.00147,"temp":0.000973,"phase":"solid phase 2- 360 micron"},
{"fraction":0.001484,"temp":0.0001,"phase":"solid phase 2- 360 micron"},
{"fraction":0.001498,"temp":0.004609,"phase":"solid phase 2- 360 micron"},
{"fraction":0.001527,"temp":0.0037,"phase":"solid phase 2- 360 micron"},
{"fraction":0.001484,"temp":0.0034,"phase":"solid phase 2- 360 micron"},
{"fraction":0.001557,"temp":0.001882,"phase":"solid phase 2- 360 micron"},
{"fraction":0.001572,"temp":0.000673,"phase":"solid phase 2- 360 micron"},
{"fraction":0.001586,"temp":0.0,"phase":"solid phase 2- 360 micron"},
{"fraction":0.001618,"temp":0.001582,"phase":"solid phase 2- 360 micron"},
{"fraction":0.001648,"temp":0.0001,"phase":"solid phase 2- 360 micron"},
{"fraction":0.00168,"temp":0.002791,"phase":"solid phase 2- 360 micron"},
{"fraction":0.001713,"temp":0.004,"phase":"solid phase 2- 360 micron"},
{"fraction":0.001728,"temp":0.005818,"phase":"solid phase 2- 360 micron"},
{"fraction":0.001746,"temp":0.004909,"phase":"solid phase 2- 360 micron"},
{"fraction":0.001779,"temp":0.0034,"phase":"solid phase 2- 360 micron"},
{"fraction":0.001796,"temp":0.001882,"phase":"solid phase 2- 360 micron"},
{"fraction":0.001831,"temp":0.001273,"phase":"solid phase 2- 360 micron"},
{"fraction":0.001848,"temp":0.0001,"phase":"solid phase 2- 360 micron"},
{"fraction":0.001866,"temp":0.006127,"phase":"solid phase 2- 360 micron"},
{"fraction":0.001884,"temp":0.004309,"phase":"solid phase 2- 360 micron"},
{"fraction":0.001921,"temp":0.002791,"phase":"solid phase 2- 360 micron"},
{"fraction":0.001957,"temp":0.006427,"phase":"solid phase 2- 360 micron"},
{"fraction":0.001995,"temp":0.005218,"phase":"solid phase 2- 360 micron"},
{"fraction":0.002034,"temp":0.006727,"phase":"solid phase 2- 360 micron"},
{"fraction":0.002073,"temp":0.005818,"phase":"solid phase 2- 360 micron"},
{"fraction":0.002112,"temp":0.004609,"phase":"solid phase 2- 360 micron"},
{"fraction":0.002154,"temp":0.0034,"phase":"solid phase 2- 360 micron"},
{"fraction":0.002174,"temp":0.007336,"phase":"solid phase 2- 360 micron"},
{"fraction":0.002237,"temp":0.009155,"phase":"solid phase 2- 360 micron"},
{"fraction":0.002281,"temp":0.007945,"phase":"solid phase 2- 360 micron"},
{"fraction":0.002369,"temp":0.006727,"phase":"solid phase 2- 360 micron"},
{"fraction":0.002415,"temp":0.008855,"phase":"solid phase 2- 360 micron"},
{"fraction":0.002438,"temp":0.007636,"phase":"solid phase 2- 360 micron"},
{"fraction":0.002508,"temp":0.008545,"phase":"solid phase 2- 360 micron"},
{"fraction":0.002606,"temp":0.0084,"phase":"solid phase 2- 360 micron"},
{"fraction":0.002558,"temp":0.007636,"phase":"solid phase 2- 360 micron"},
{"fraction":0.00246,"temp":0.006273,"phase":"solid phase 2- 360 micron"},
{"fraction":0.002369,"temp":0.004909,"phase":"solid phase 2- 360 micron"},
{"fraction":0.002415,"temp":0.005518,"phase":"solid phase 2- 360 micron"},
{"fraction":0.002508,"temp":0.004309,"phase":"solid phase 2- 360 micron"},
{"fraction":0.002606,"temp":0.005218,"phase":"solid phase 2- 360 micron"},
{"fraction":0.002656,"temp":0.0037,"phase":"solid phase 2- 360 micron"},
{"fraction":0.002708,"temp":0.004909,"phase":"solid phase 2- 360 micron"},
{"fraction":0.002632,"temp":0.002791,"phase":"solid phase 2- 360 micron"},
{"fraction":0.002708,"temp":0.002182,"phase":"solid phase 2- 360 micron"},
{"fraction":0.00276,"temp":0.001273,"phase":"solid phase 2- 360 micron"},
{"fraction":0.002682,"temp":0.000673,"phase":"solid phase 2- 360 micron"},
{"fraction":0.002786,"temp":0.003091,"phase":"solid phase 2- 360 micron"},
{"fraction":0.002812,"temp":0.004,"phase":"solid phase 2- 360 micron"},
{"fraction":0.002868,"temp":0.005518,"phase":"solid phase 2- 360 micron"},
{"fraction":0.002922,"temp":0.007491,"phase":"solid phase 2- 360 micron"},
{"fraction":0.003036,"temp":0.005364,"phase":"solid phase 2- 360 micron"},
{"fraction":0.003094,"temp":0.007945,"phase":"solid phase 2- 360 micron"},
{"fraction":0.003153,"temp":0.006727,"phase":"solid phase 2- 360 micron"},
{"fraction":0.003276,"temp":0.005818,"phase":"solid phase 2- 360 micron"},
{"fraction":0.003308,"temp":0.008545,"phase":"solid phase 2- 360 micron"},
{"fraction":0.003153,"temp":0.007945,"phase":"solid phase 2- 360 micron"},
{"fraction":0.003276,"temp":0.004909,"phase":"solid phase 2- 360 micron"},
{"fraction":0.003535,"temp":0.005518,"phase":"solid phase 2- 360 micron"},
{"fraction":0.003605,"temp":0.004309,"phase":"solid phase 2- 360 micron"},
{"fraction":0.003744,"temp":0.005518,"phase":"solid phase 2- 360 micron"},
{"fraction":0.003781,"temp":0.006273,"phase":"solid phase 2- 360 micron"},
{"fraction":0.003153,"temp":0.000973,"phase":"solid phase 2- 360 micron"},
{"fraction":0.003339,"temp":0.000973,"phase":"solid phase 2- 360 micron"},
{"fraction":0.003535,"temp":0.001273,"phase":"solid phase 2- 360 micron"},
{"fraction":0.003744,"temp":0.001273,"phase":"solid phase 2- 360 micron"},
{"fraction":0.003818,"temp":0.002491,"phase":"solid phase 2- 360 micron"},
{"fraction":0.003891,"temp":0.001273,"phase":"solid phase 2- 360 micron"},
{"fraction":0.004531,"temp":0.002791,"phase":"solid phase 2- 360 micron"},
{"fraction":0.002073,"temp":0.001127,"phase":"solid phase 2- 360 micron"},
{"fraction":0.002154,"temp":0.000364,"phase":"solid phase 2- 360 micron"},
{"fraction":0.001995,"temp":0.000364,"phase":"solid phase 2- 360 micron"},
{"fraction":0.001921,"temp":0.0,"phase":"solid phase 2- 360 micron"},
{"fraction":0.001746,"temp":0.0,"phase":"solid phase 2- 360 micron"},
{"fraction":0.001814,"temp":0.0,"phase":"solid phase 2- 360 micron"},
{"fraction":0.001618,"temp":0.0,"phase":"solid phase 2- 360 micron"},
{"fraction":0.001498,"temp":0.0,"phase":"solid phase 2- 360 micron"},
{"fraction":0.001443,"temp":0.000364,"phase":"solid phase 2- 360 micron"},
{"fraction":0.001362,"temp":0.0,"phase":"solid phase 2- 360 micron"},
{"fraction":0.001311,"temp":0.0,"phase":"solid phase 2- 360 micron"},
{"fraction":0.001238,"temp":0.0,"phase":"solid phase 2- 360 micron"},
{"fraction":0.002014,"temp":0.0,"phase":"solid phase 2- 360 micron"},
{"fraction":0.002112,"temp":0.0,"phase":"solid phase 2- 360 micron"},
{"fraction":0.002237,"temp":0.0,"phase":"solid phase 2- 360 micron"},
{"fraction":0.002281,"temp":0.002182,"phase":"solid phase 2- 360 micron"},
{"fraction":0.002325,"temp":0.001582,"phase":"solid phase 2- 360 micron"},
{"fraction":0.002415,"temp":0.001273,"phase":"solid phase 2- 360 micron"},
{"fraction":0.002508,"temp":0.001882,"phase":"solid phase 2- 360 micron"},
{"fraction":0.002533,"temp":0.002791,"phase":"solid phase 2- 360 micron"},
{"fraction":0.002581,"temp":0.0034,"phase":"solid phase 2- 360 micron"},
{"fraction":0.002369,"temp":0.002791,"phase":"solid phase 2- 360 micron"},
{"fraction":0.002216,"temp":0.002182,"phase":"solid phase 2- 360 micron"},
{"fraction":0.001995,"temp":0.001882,"phase":"solid phase 2- 360 micron"},
{"fraction":0.002053,"temp":0.002791,"phase":"solid phase 2- 360 micron"},
{"fraction":0.001957,"temp":0.001273,"phase":"solid phase 2- 360 micron"},
{"fraction":0.001713,"temp":0.001273,"phase":"solid phase 2- 360 micron"},
{"fraction":0.001648,"temp":0.000973,"phase":"solid phase 2- 360 micron"},
{"fraction":0.001527,"temp":0.001273,"phase":"solid phase 2- 360 micron"},
{"fraction":0.001336,"temp":0.000673,"phase":"solid phase 2- 360 micron"},
{"fraction":0.001286,"temp":0.001273,"phase":"solid phase 2- 360 micron"},
{"fraction":0.001215,"temp":0.0001,"phase":"solid phase 2- 360 micron"},
{"fraction":0.001073,"temp":0.000973,"phase":"solid phase 2- 360 micron"},
{"fraction":0.001136,"temp":0.001882,"phase":"solid phase 2- 360 micron"},
{"fraction":0.001156,"temp":0.002791,"phase":"solid phase 2- 360 micron"},
{"fraction":0.001238,"temp":0.002336,"phase":"solid phase 2- 360 micron"},
{"fraction":0.001311,"temp":0.001882,"phase":"solid phase 2- 360 micron"},
{"fraction":0.001336,"temp":0.0037,"phase":"solid phase 2- 360 micron"},
{"fraction":0.001388,"temp":0.004155,"phase":"solid phase 2- 360 micron"},
{"fraction":0.00147,"temp":0.002336,"phase":"solid phase 2- 360 micron"},
{"fraction":0.001527,"temp":0.002791,"phase":"solid phase 2- 360 micron"},
{"fraction":0.001586,"temp":0.003882,"phase":"solid phase 2- 360 micron"},
{"fraction":0.001648,"temp":0.002336,"phase":"solid phase 2- 360 micron"},
{"fraction":0.001713,"temp":0.002791,"phase":"solid phase 2- 360 micron"},
{"fraction":0.001814,"temp":0.002791,"phase":"solid phase 2- 360 micron"},
{"fraction":0.001921,"temp":0.0037,"phase":"solid phase 2- 360 micron"},
{"fraction":0.001957,"temp":0.002336,"phase":"solid phase 2- 360 micron"},
{"fraction":0.002034,"temp":0.004155,"phase":"solid phase 2- 360 micron"},
{"fraction":0.002154,"temp":0.002336,"phase":"solid phase 2- 360 micron"},
{"fraction":0.002237,"temp":0.002791,"phase":"solid phase 2- 360 micron"},
{"fraction":0.002281,"temp":0.003882,"phase":"solid phase 2- 360 micron"},
{"fraction":0.002438,"temp":0.0037,"phase":"solid phase 2- 360 micron"},
{"fraction":0.00246,"temp":0.002336,"phase":"solid phase 2- 360 micron"},
{"fraction":0.002606,"temp":0.001882,"phase":"solid phase 2- 360 micron"},
{"fraction":0.002708,"temp":0.003245,"phase":"solid phase 2- 360 micron"},
{"fraction":0.002839,"temp":0.002336,"phase":"solid phase 2- 360 micron"},
{"fraction":0.001203,"temp":0.000973,"phase":"solid phase 2- 360 micron"},
{"fraction":0.001429,"temp":0.000973,"phase":"solid phase 2- 360 micron"},
{"fraction":0.001713,"temp":0.000518,"phase":"solid phase 2- 360 micron"},
{"fraction":0.002034,"temp":0.0007,"phase":"solid phase 2- 360 micron"},
{"fraction":0.002415,"temp":0.000518,"phase":"solid phase 2- 360 micron"},
{"fraction":0.001848,"temp":0.005064,"phase":"solid phase 2- 360 micron"},
{"fraction":0.002194,"temp":0.005518,"phase":"solid phase 2- 360 micron"},
{"fraction":0.002533,"temp":0.006427,"phase":"solid phase 2- 360 micron"},
{"fraction":0.002281,"temp":0.006427,"phase":"solid phase 2- 360 micron"},
{"fraction":0.001618,"temp":0.005518,"phase":"solid phase 2- 360 micron"},
{"fraction":0.001527,"temp":0.006427,"phase":"solid phase 2- 360 micron"},
{"fraction":0.00168,"temp":0.006609,"phase":"solid phase 2- 360 micron"},
{"fraction":0.001796,"temp":0.005973,"phase":"solid phase 2- 360 micron"},
{"fraction":0.00276,"temp":0.006427,"phase":"solid phase 2- 360 micron"},
{"fraction":0.002922,"temp":0.004155,"phase":"solid phase 2- 360 micron"},
{"fraction":0.003036,"temp":0.002791,"phase":"solid phase 2- 360 micron"}
]},
"layer":[
{"data":{"name":"watermark"},
 "mark":{"type":"text","font":"Liberation Serif","fontSize":120,"angle":-45.5,"color":"#e6e6e6","align":"center","baseline":"middle"},
 "encoding":{"x":{"field":"fraction","type":"quantitative"},"y":{"field":"temp","type":"quantitative"},"text":{"field":"label","type":"nominal"}}},
{"data":{"name":"watermark"},
 "mark":{"type":"rule","color":"black","strokeWidth":2},
 "encoding":{"y":{"datum":0,"type":"quantitative"}}},
{"data":{"name":"watermark"},
 "mark":{"type":"rule","color":"black","strokeWidth":2},
 "encoding":{"x":{"datum":0.001,"type":"quantitative"}}},
{"data":{"name":"points"},
 "mark":{"type":"point","filled":true,"opacity":1,"strokeWidth":0},
 "encoding":{
  "x":{"field":"fraction","type":"quantitative","scale":{"type":"log","domain":[0.001,0.19],"nice":false},
   "axis":{"zindex":1,"title":"Solid volume fraction (-)","values":[0.001,0.002,0.003,0.004,0.005,0.006,0.007,0.008,0.009,0.01,0.02,0.03,0.04,0.05,0.06,0.07,0.08,0.09,0.1],
    "labelExpr":"abs(log(datum.value)/LN10 - round(log(datum.value)/LN10)) < 0.01 ? format(datum.value, '.3f') : ''",
    "tickSize":8,"labelPadding":15.6,"titleFontSize":29,"titleY":87,"titleBaseline":"alphabetic"}},
  "y":{"field":"temp","type":"quantitative","scale":{"domain":[0,0.06],"nice":false,"zero":false},
   "axis":{"zindex":1,"title":"Granular temperature (m/s)²","values":[0,0.005,0.01,0.015,0.02,0.025,0.03,0.035,0.04,0.045,0.05,0.055],
    "labelExpr":"abs(datum.value*100 - round(datum.value*100)) < 0.01 ? format(datum.value, '.2f') : ''",
    "tickSize":9,"labelPadding":18,"titleFontSize":30.5,"titleX":-99,"titleY":311,"titleBaseline":"alphabetic","titleAngle":-90}},
  "color":{"field":"phase","type":"nominal","scale":{"domain":["solid phase 1- 755 micron","solid phase 2- 360 micron"],"range":["#000000","#ff0000"]},
   "legend":{"orient":"none","legendX":47.6,"legendY":18.5,"title":null,"labelFontSize":24,"labelOffset":1,"labelLimit":0,"rowPadding":16,"padding":0,"labelColor":"black","symbolStrokeWidth":0}},
  "shape":{"field":"phase","type":"nominal","scale":{"domain":["solid phase 1- 755 micron","solid phase 2- 360 micron"],"range":["circle","triangle-up"]},
   "legend":{"orient":"none","legendX":47.6,"legendY":18.5,"title":null,"labelFontSize":24,"labelOffset":1,"labelLimit":0,"rowPadding":16,"padding":0,"labelColor":"black","symbolStrokeWidth":0}},
  "size":{"field":"phase","type":"nominal","scale":{"domain":["solid phase 1- 755 micron","solid phase 2- 360 micron"],"range":[50,210]},
   "legend":{"orient":"none","legendX":47.6,"legendY":18.5,"title":null,"labelFontSize":24,"labelOffset":1,"labelLimit":0,"rowPadding":16,"padding":0,"labelColor":"black","symbolStrokeWidth":0}}
 }}
]
}
